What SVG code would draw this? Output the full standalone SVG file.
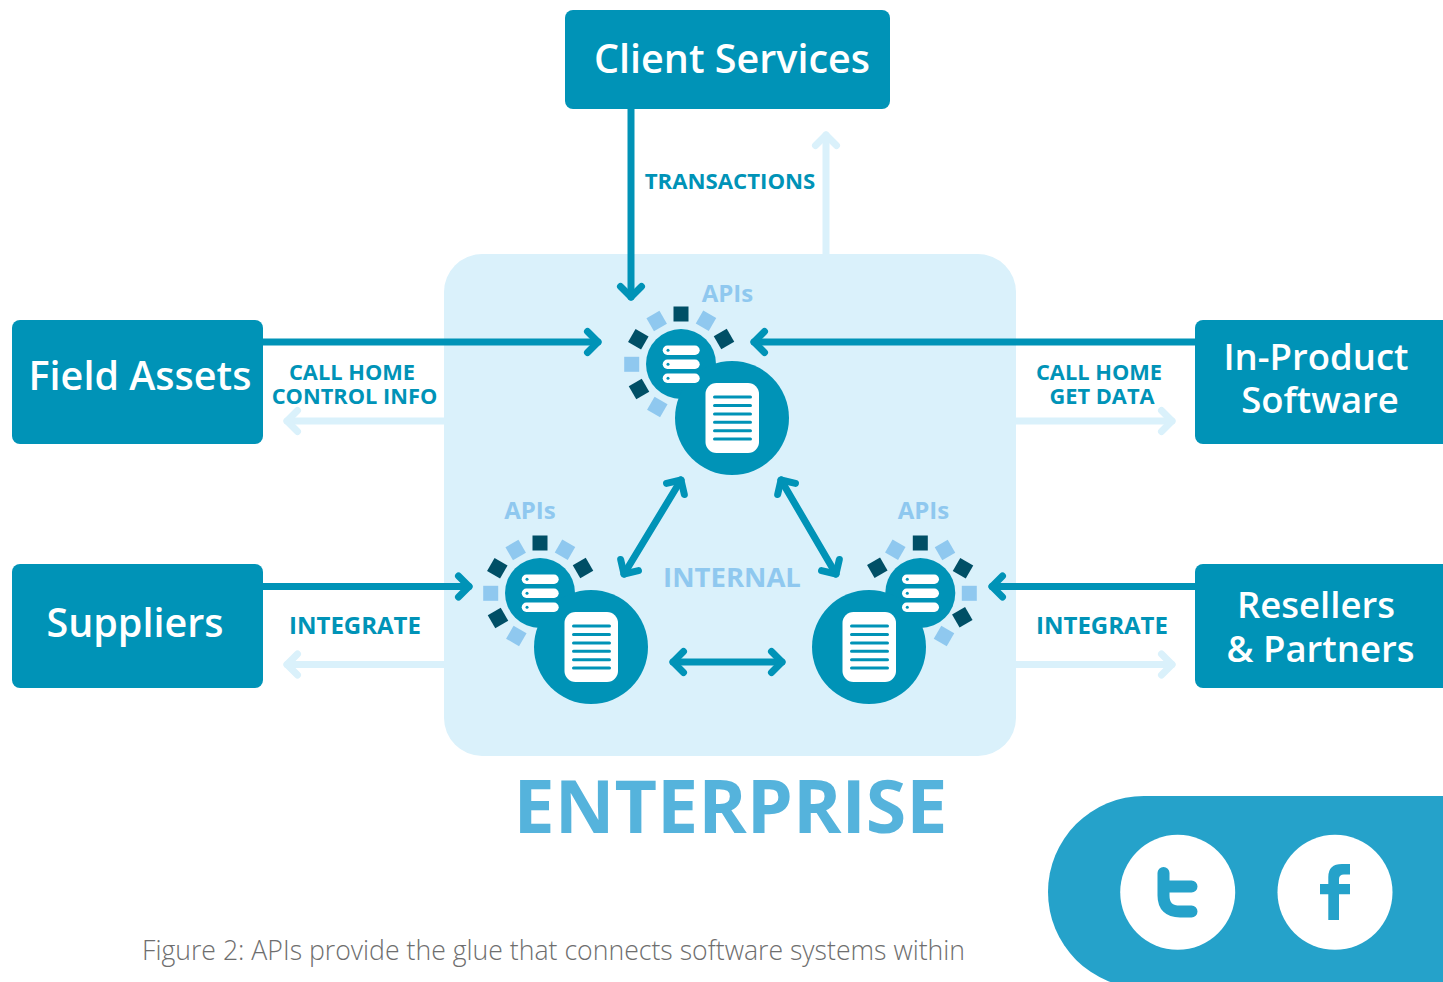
<svg xmlns="http://www.w3.org/2000/svg" width="1443" height="982" viewBox="0 0 1443 982">
<style>
text{font-family:"Open Sans","Noto Sans","Liberation Sans",sans-serif}
.box{fill:#0093b7}
.nt{fill:#fff;font-size:39.500px;font-weight:600;text-anchor:middle}
.ns{font-size:36.500px}
.lb{fill:#0093b7;font-size:22.200px;font-weight:700;text-anchor:middle}
.ls{font-size:21.800px}
.lg{font-size:24px}
.api{fill:#8fc8ef;font-size:24px;font-weight:700;text-anchor:middle}
.c{fill:none;stroke:#0093b7;stroke-width:7;stroke-linecap:round;stroke-linejoin:round}
.p{fill:none;stroke:#daf1fb;stroke-width:7;stroke-linecap:round;stroke-linejoin:round}
.hb{fill:#0093b7}
.w{fill:#fff}
.dl{stroke:#0093b7;stroke-width:3;stroke-linecap:round}
.d{fill:#004f66}
.l{fill:#8fc8ef}
</style>
<defs>
<path id="h" d="M-10.500-10.500L0 0L-10.500 10.500"/>
<g id="core">
<circle class="hb" cx="681" cy="364" r="35"/>
<circle class="hb" cx="732" cy="418" r="57"/>
<rect class="w" x="705.500" y="383" width="53.500" height="70" rx="11"/>
<path class="dl" d="M714.500 397H750.500M714.500 405.500H750.500M714.500 414H750.500M714.500 422.300H750.500M714.500 430.700H750.500M714.500 439H750.500"/>
<rect class="w" x="662.700" y="345.600" width="37" height="9.400" rx="4.700"/>
<rect class="w" x="662.700" y="359.600" width="37" height="9.400" rx="4.700"/>
<rect class="w" x="662.700" y="373.600" width="37" height="9.400" rx="4.700"/>
<circle class="hb" cx="668" cy="350.300" r="1.500"/>
<circle class="hb" cx="668" cy="364.300" r="1.500"/>
<circle class="hb" cx="668" cy="378.300" r="1.500"/>
</g>
<rect id="s" x="-7.500" y="-7.500" width="15" height="15"/>
</defs>

<rect id="panel" x="444" y="254" width="572" height="502" rx="38" fill="#daf1fb"/>

<g id="connectors">
<path class="p" d="M826 254V135"/><use href="#h" class="p" transform="translate(826 135) rotate(-90)"/>
<path class="p" d="M444 421H287"/><use href="#h" class="p" transform="translate(287 421) rotate(180)"/>
<path class="p" d="M1016 421H1172"/><use href="#h" class="p" transform="translate(1172 421)"/>
<path class="p" d="M444 664.500H287"/><use href="#h" class="p" transform="translate(287 664.500) rotate(180)"/>
<path class="p" d="M1016 664.500H1172"/><use href="#h" class="p" transform="translate(1172 664.500)"/>
<path class="c" d="M631 109V297"/><use href="#h" class="c" transform="translate(631 297) rotate(90)"/>
<path class="c" d="M263 342H598"/><use href="#h" class="c" transform="translate(598 342)"/>
<path class="c" d="M1195 342H754"/><use href="#h" class="c" transform="translate(754 342) rotate(180)"/>
<path class="c" d="M263 586.500H469"/><use href="#h" class="c" transform="translate(469 586.500)"/>
<path class="c" d="M1195 586.500H992"/><use href="#h" class="c" transform="translate(992 586.500) rotate(180)"/>
<path class="c" d="M681 480L624 574"/><use href="#h" class="c" transform="translate(681 480) rotate(-58)"/><use href="#h" class="c" transform="translate(624 574) rotate(122)"/>
<path class="c" d="M781 480L836 574"/><use href="#h" class="c" transform="translate(781 480) rotate(-122)"/><use href="#h" class="c" transform="translate(836 574) rotate(58)"/>
<path class="c" d="M673 662H782"/><use href="#h" class="c" transform="translate(673 662) rotate(180)"/><use href="#h" class="c" transform="translate(782 662)"/>
</g>

<g id="client-services"><rect class="box" x="565" y="10" width="325" height="99" rx="8"/><text class="nt" x="732" y="73">Client Services</text></g>
<g id="field-assets"><rect class="box" x="12" y="320" width="251" height="124" rx="8"/><text class="nt" x="140" y="390">Field Assets</text></g>
<g id="suppliers"><rect class="box" x="12" y="564" width="251" height="124" rx="8"/><text class="nt" x="135" y="637">Suppliers</text></g>
<g id="in-product-software"><rect class="box" x="1195" y="320" width="260" height="124" rx="8"/><text class="nt ns" x="1316" y="370">In-Product</text><text class="nt ns" x="1320" y="413">Software</text></g>
<g id="resellers-partners"><rect class="box" x="1195" y="564" width="260" height="124" rx="8"/><text class="nt ns" x="1316" y="618">Resellers</text><text class="nt ns" x="1320.500" y="662">&amp; Partners</text></g>

<g id="hub-top">
<use href="#s" class="d" x="681" y="314"/>
<use href="#s" class="l" transform="translate(706 320.700) rotate(30)"/>
<use href="#s" class="d" transform="translate(724 339) rotate(60)"/>
<use href="#s" class="d" transform="translate(638.300 339.300) rotate(30)"/>
<use href="#s" class="l" transform="translate(656.700 321) rotate(60)"/>
<use href="#s" class="l" x="631.700" y="364.300"/>
<use href="#s" class="d" transform="translate(639 389) rotate(60)"/>
<use href="#s" class="l" transform="translate(657.300 407) rotate(30)"/>
<use href="#core"/>
<text class="api" x="727.500" y="302">APIs</text>
</g>
<g id="hub-left">
<use href="#s" class="d" x="540" y="543"/>
<use href="#s" class="l" transform="translate(565 549.700) rotate(30)"/>
<use href="#s" class="d" transform="translate(583 568) rotate(60)"/>
<use href="#s" class="d" transform="translate(497.300 568.300) rotate(30)"/>
<use href="#s" class="l" transform="translate(515.700 550) rotate(60)"/>
<use href="#s" class="l" x="490.700" y="593.300"/>
<use href="#s" class="d" transform="translate(498 618) rotate(60)"/>
<use href="#s" class="l" transform="translate(516.300 636) rotate(30)"/>
<use href="#core" transform="translate(-141 229)"/>
<text class="api" x="530" y="519">APIs</text>
</g>
<g id="hub-right">
<use href="#s" class="d" x="920.300" y="543"/>
<use href="#s" class="l" transform="translate(945 550) rotate(60)"/>
<use href="#s" class="d" transform="translate(963 568.300) rotate(30)"/>
<use href="#s" class="l" x="969.300" y="593.300"/>
<use href="#s" class="d" transform="translate(962.300 617.300) rotate(60)"/>
<use href="#s" class="l" transform="translate(944 636) rotate(30)"/>
<use href="#s" class="d" transform="translate(877.300 567.700) rotate(60)"/>
<use href="#s" class="l" transform="translate(895.300 549.700) rotate(30)"/>
<circle class="hb" cx="920.300" cy="593" r="35"/>
<circle class="hb" cx="869" cy="647" r="57"/>
<g transform="translate(137 229)">
<rect class="w" x="705.500" y="383" width="53.500" height="70" rx="11"/>
<path class="dl" d="M714.500 397H750.500M714.500 405.500H750.500M714.500 414H750.500M714.500 422.300H750.500M714.500 430.700H750.500M714.500 439H750.500"/>
</g>
<g transform="translate(239.300 229)">
<rect class="w" x="662.700" y="345.600" width="37" height="9.400" rx="4.700"/>
<rect class="w" x="662.700" y="359.600" width="37" height="9.400" rx="4.700"/>
<rect class="w" x="662.700" y="373.600" width="37" height="9.400" rx="4.700"/>
<circle class="hb" cx="668" cy="350.300" r="1.500"/>
<circle class="hb" cx="668" cy="364.300" r="1.500"/>
<circle class="hb" cx="668" cy="378.300" r="1.500"/>
</g>
<text class="api" x="923.500" y="519">APIs</text>
</g>

<text class="lb" x="730" y="189">TRANSACTIONS</text>
<text class="lb ls" x="352" y="380">CALL HOME</text>
<text class="lb ls" x="354.500" y="404">CONTROL INFO</text>
<text class="lb ls" x="1099" y="380">CALL HOME</text>
<text class="lb ls" x="1102" y="404">GET DATA</text>
<text class="lb lg" x="355" y="634">INTEGRATE</text>
<text class="lb lg" x="1102" y="634">INTEGRATE</text>
<text x="732" y="587" style="fill:#8fc8ef;font-size:27.500px;font-weight:700;text-anchor:middle">INTERNAL</text>
<text x="730.500" y="833" style="fill:#55b3dc;font-size:73.500px;font-weight:700;text-anchor:middle">ENTERPRISE</text>
<text x="142" y="960" style="fill:#6e6e6e;font-size:26.650px;font-weight:300">Figure 2: APIs provide the glue that connects software systems within</text>

<g id="social">
<rect x="1048" y="796" width="520" height="192" rx="96" fill="#25a2ca"/>
<circle class="w" cx="1177.700" cy="892.300" r="57.500"/>
<circle class="w" cx="1335" cy="892.300" r="57.500"/>
<path d="M1163.500 873V895.500Q1163.500 911.500 1180 911.500H1191.500M1163.500 886.500H1191.500" fill="none" stroke="#25a2ca" stroke-width="12" stroke-linecap="round"/>
<path d="M1328.300 920V894.300H1320V884H1328.300V877Q1328.300 864 1342 864H1350V874.500H1344Q1339 874.500 1339 879V884H1350V894.300H1339V920Z" fill="#25a2ca"/>
</g>
</svg>
